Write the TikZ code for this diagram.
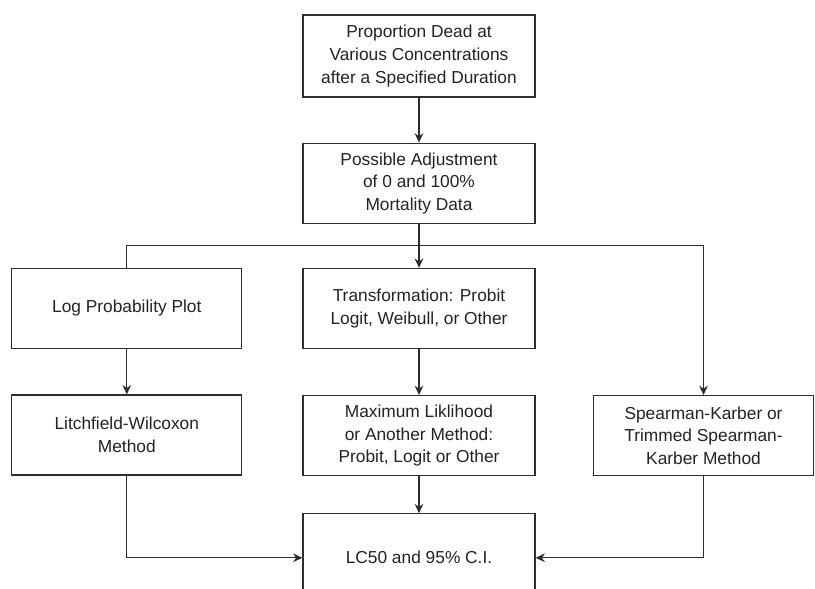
\documentclass[tikz,border=0pt]{standalone}
\usepackage{fontspec}
\setmainfont{Liberation Sans}
\usepackage{tikz}
\usetikzlibrary{arrows.meta, positioning, calc}
\definecolor{mydark}{RGB}{45,45,45}
\definecolor{mytext}{RGB}{35,35,35}
\tikzset{
  block/.style={rectangle, draw=mydark, fill=white, text=mytext,
    minimum width=174pt, minimum height=60pt, align=center,
    line width=0.9pt},
  sideblock/.style={block, minimum width=165pt},
  arrow/.style={-{Stealth[length=7pt, width=6.5pt]}, line width=0.9pt, color=mydark},
  line/.style={line width=0.9pt, color=mydark}
}

\begin{document}
\begin{tikzpicture}[node distance=34pt and 45pt,
    every node/.style={font=\fontsize{13}{17}\selectfont}]
  \useasboundingbox[fill=white] (0pt,0pt) rectangle (611.25pt,-441.75pt);

  \node[block, minimum height=61.5pt] (dead) at (314.25pt,-42pt)
    {Proportion Dead at\\Various Concentrations\\after a Specified Duration};
  \node[block, below=33.75pt of dead] (adjust)
    {Possible Adjustment\\of 0 and 100\%\\Mortality Data};
  \node[block, below=33pt of adjust] (transf)
    {Transformation: Probit\\Logit, Weibull, or Other};
  \node[block, minimum width=172.5pt, left=45pt of transf] (logplot)
    {Log Probability Plot};
  \node[block, below=34.5pt of transf] (maxlik)
    {Maximum Liklihood\\or Another Method:\\Probit, Logit or Other};
  \node[block, minimum width=172.5pt, below=34pt of logplot] (litch)
    {Litchfield-Wilcoxon\\Method};
  \node[sideblock, right=43pt of maxlik] (spear)
    {Spearman-Karber or\\Trimmed Spearman-\\Karber Method};
  \node[block, minimum height=66pt, below=27.75pt of maxlik] (lc50)
    {LC50 and 95\% C.I.};

  \coordinate (split) at ($(adjust.south)!0.5!(transf.north)$);

  \draw[arrow] (dead) -- (adjust);
  \draw[arrow] (adjust) -- (transf);
  \draw[line] (split) -| (logplot.north);
  \draw[arrow] (split) -| (spear.north);
  \draw[arrow] (logplot) -- (litch);
  \draw[arrow] (transf) -- (maxlik);
  \draw[arrow] (maxlik) -- (lc50);
  \draw[arrow] (litch) |- (lc50);
  \draw[arrow] (spear) |- (lc50);
\end{tikzpicture}
\end{document}
